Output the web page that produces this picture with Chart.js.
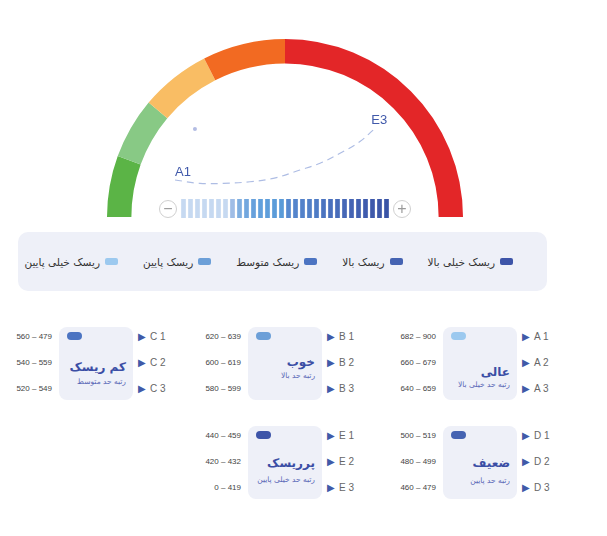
<!DOCTYPE html>
<html>
<head>
<meta charset="utf-8">
<script src="https://cdn.jsdelivr.net/npm/chart.js@4/dist/chart.umd.min.js"></script>
<style>
  body { margin: 0; background: #fff; font-family: 'DejaVu Sans', 'Liberation Sans', sans-serif; }
  #page { position: relative; width: 607px; height: 536px; overflow: hidden; }
  .abs { position: absolute; }
  .zoom-btn { position: absolute; width: 16px; height: 16px; border: 1.5px solid #cfcfcf; border-radius: 50%; background: #fff;
    color: #9a9a9a; font: 16px/16px 'Liberation Sans', sans-serif; text-align: center; }
  #legend { position: absolute; left: 18px; top: 232px; width: 529px; height: 59px; background: #eef0f8; border-radius: 10px;
    display: flex; flex-direction: row-reverse; align-items: center; gap: 25px; padding-right: 34px; box-sizing: border-box; }
  .legend-item { display: flex; flex-direction: row; align-items: center; gap: 5px; direction: rtl; font-size: 10.5px; color: #333; }
  .legend-swatch { width: 13px; height: 7px; border-radius: 2px; }
  .card { position: absolute; width: 74px; height: 73px; background: #eef0f8; border-radius: 8px; }
  .pill { position: absolute; left: 8px; top: 5px; width: 15px; height: 8px; border-radius: 4px; }
  .card-title { position: absolute; right: 7px; direction: rtl; white-space: nowrap; font-size: 12px; line-height: 18px; font-weight: bold; color: #3b4ea5; }
  .card-note { position: absolute; right: 7px; direction: rtl; white-space: nowrap; font-size: 7.5px; line-height: 10px; color: #5866b6; }
  .range { position: absolute; width: 60px; text-align: right; font: 8px/10px 'Liberation Sans', sans-serif; color: #444; }
  .row-code { position: absolute; font: 10px/12px 'Liberation Sans', sans-serif; color: #666; white-space: nowrap; }
  .row-code span { color: #3f5aa8; font-size: 10px; margin-right: 4px; }
</style>
</head>
<body>
<div id="page">
  <div class="abs" style="left:107px;top:39px;width:356px;height:178px">
    <canvas id="gauge" class="abs" width="356" height="178" style="left:0;top:0"></canvas>
    <canvas id="path" class="abs" width="356" height="178" style="left:0;top:0"></canvas>
  </div>
  <div class="zoom-btn" style="left:159px;top:200px">&minus;</div>
  <canvas id="scale" class="abs" width="210" height="19" style="left:180px;top:199px"></canvas>
  <div class="zoom-btn" style="left:393px;top:200px">+</div>
  <div id="legend"></div>
  <div id="cards"></div>
</div>
<script>
// gauge bands, in degrees of the half circle, left to right
const gaugeBands = ['خیلی پایین', 'پایین', 'متوسط', 'بالا', 'خیلی بالا'];
const gaugeSpans = [20, 20, 23, 27, 90];
const gaugeColors = ['#5bb446', '#88c985', '#f9bd64', '#f26a22', '#e32628'];

// dashed path between A1 and E3 (x: -1..1 across the gauge, y: 0..1 up from its base)
const pathX = [-0.618, -0.478, -0.346, -0.197, -0.066, 0.084, 0.197, 0.309, 0.421, 0.496];
const pathY = [0.208, 0.189, 0.189, 0.198, 0.217, 0.264, 0.302, 0.358, 0.424, 0.489];
const pathLabels = ['A1', 'E3'];
const markerX = [-0.506];
const markerY = [0.494];

// zoom scale steps
const scaleSteps = [1, 1, 1, 1, 1, 1, 1, 1, 1, 1, 1, 1, 1, 1, 1, 1, 1, 1, 1, 1, 1, 1, 1, 1, 1, 1, 1, 1, 1, 1];
const scaleColors = [
  '#c6d9f1', '#c6d9f1', '#c6d9f1', '#c6d9f1', '#c6d9f1', '#c6d9f1', '#c6d9f1',
  '#9fbde6', '#7eaee0', '#72a7de', '#67a1dc', '#62a0dc', '#5e9edb', '#5b9cd9', '#5a9bd8',
  '#5689cf', '#5585cc', '#5382ca', '#517fc7', '#4f7cc5',
  '#4b74c0', '#4a70bd', '#486cba', '#4668b7', '#4564b4',
  '#4260b1', '#405cae', '#3e59ab', '#3c56a8', '#3a54a6'
];

const legendLabels = ['ریسک خیلی بالا', 'ریسک بالا', 'ریسک متوسط', 'ریسک پایین', 'ریسک خیلی پایین'];
const legendColors = ['#3d54a8', '#4563b2', '#4c74c2', '#6c9fd8', '#9cc9ef'];

const gradeCodes = ['A', 'B', 'C', 'D', 'E'];
const gradeTitles = ['عالی', 'خوب', 'کم ریسک', 'ضعیف', 'پرریسک'];
const gradeNotes = ['رتبه حد خیلی بالا', 'رتبه حد بالا', 'رتبه حد متوسط', 'رتبه حد پایین', 'رتبه حد خیلی پایین'];
const gradeRanges = [
  ['682 – 900', '660 – 679', '640 – 659'],
  ['620 – 639', '600 – 619', '580 – 599'],
  ['560 – 479', '540 – 559', '520 – 549'],
  ['500 – 519', '480 – 499', '460 – 479'],
  ['440 – 459', '420 – 432', '0 – 419']
];
const gradeLegendIndex = [4, 3, 2, 1, 0];

// card placement (layout only)
const cardSpots = [
  { left: 443, top: 327, titleY: 45, noteY: 58 },
  { left: 248, top: 327, titleY: 35, noteY: 49 },
  { left: 59, top: 327, titleY: 40, noteY: 55 },
  { left: 443, top: 426, titleY: 37, noteY: 55 },
  { left: 248, top: 426, titleY: 37, noteY: 54 }
];
const rowOffsets = [10, 36, 62];

// eslint-disable-next-line no-undef
const gaugeChart = new Chart('gauge', {
  type: 'doughnut',
  data: {
    labels: gaugeBands,
    datasets: [{ data: gaugeSpans, backgroundColor: gaugeColors, borderWidth: 0 }]
  },
  options: {
    responsive: false,
    animation: false,
    rotation: -90,
    circumference: 180,
    cutout: '86.3%',
    plugins: { legend: { display: false }, tooltip: { enabled: false } }
  }
});

const pathLabelPlugin = {
  id: 'pathLabels',
  afterDatasetsDraw (chart) {
    const points = chart.getDatasetMeta(0).data;
    const first = points[0];
    const last = points[points.length - 1];
    const ctx = chart.ctx;
    ctx.save();
    ctx.font = '13px "Liberation Sans", Arial, sans-serif';
    ctx.fillStyle = '#4059aa';
    ctx.textAlign = 'left';
    ctx.textBaseline = 'alphabetic';
    ctx.fillText(pathLabels[0], first.x, first.y - 4);
    ctx.fillText(pathLabels[1], last.x - 2, last.y - 6);
    ctx.restore();
  }
};

// eslint-disable-next-line no-undef
const pathChart = new Chart('path', {
  type: 'scatter',
  data: {
    datasets: [
      {
        data: pathX.map((x, i) => ({ x, y: pathY[i] })),
        showLine: true,
        borderColor: '#aebde4',
        borderWidth: 1.2,
        borderDash: [7, 5],
        tension: 0.4,
        pointRadius: 0
      },
      {
        data: markerX.map((x, i) => ({ x, y: markerY[i] })),
        pointRadius: 2,
        pointBackgroundColor: '#b3bce3',
        pointBorderWidth: 0
      }
    ]
  },
  options: {
    responsive: false,
    animation: false,
    layout: { autoPadding: false, padding: 0 },
    scales: {
      x: { type: 'linear', min: -1, max: 1, display: false },
      y: { type: 'linear', min: 0, max: 1, display: false }
    },
    plugins: { legend: { display: false }, tooltip: { enabled: false } }
  },
  plugins: [pathLabelPlugin]
});

// eslint-disable-next-line no-undef
const scaleChart = new Chart('scale', {
  type: 'bar',
  data: {
    labels: scaleSteps.map((v, i) => i + 1),
    datasets: [{ data: scaleSteps, backgroundColor: scaleColors, borderWidth: 0, barPercentage: 0.67, categoryPercentage: 1 }]
  },
  options: {
    responsive: false,
    animation: false,
    layout: { padding: 0 },
    scales: {
      x: { display: false },
      y: { display: false, min: 0, max: 1 }
    },
    plugins: { legend: { display: false }, tooltip: { enabled: false } }
  }
});

const legend = document.getElementById('legend');
legendLabels.forEach((label, i) => {
  const item = document.createElement('div');
  item.className = 'legend-item';
  item.innerHTML = `<div class="legend-swatch" style="background:${legendColors[i]}"></div><div>${label}</div>`;
  legend.appendChild(item);
});

const cards = document.getElementById('cards');
gradeCodes.forEach((code, i) => {
  const spot = cardSpots[i];
  const card = document.createElement('div');
  card.className = 'card';
  card.style.left = spot.left + 'px';
  card.style.top = spot.top + 'px';
  card.innerHTML =
    `<div class="pill" style="background:${legendColors[gradeLegendIndex[i]]}"></div>` +
    `<div class="card-title" style="top:${spot.titleY - 9}px">${gradeTitles[i]}</div>` +
    `<div class="card-note" style="top:${spot.noteY - 5}px">${gradeNotes[i]}</div>`;
  cards.appendChild(card);

  gradeRanges[i].forEach((range, r) => {
    const y = spot.top + rowOffsets[r];
    const rangeEl = document.createElement('div');
    rangeEl.className = 'range';
    rangeEl.textContent = range;
    rangeEl.style.left = (spot.left - 67) + 'px';
    rangeEl.style.top = (y - 5) + 'px';
    cards.appendChild(rangeEl);

    const codeEl = document.createElement('div');
    codeEl.className = 'row-code';
    codeEl.innerHTML = `<span>&#9654;</span>${code} ${r + 1}`;
    codeEl.style.left = (spot.left + 79) + 'px';
    codeEl.style.top = (y - 6) + 'px';
    cards.appendChild(codeEl);
  });
});
</script>
</body>
</html>
